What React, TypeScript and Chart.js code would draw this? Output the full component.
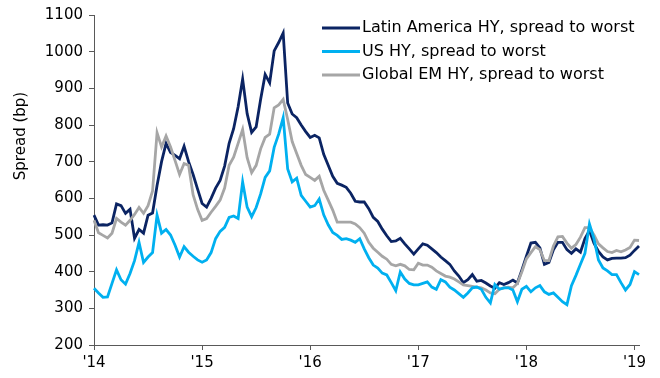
import { useEffect, useRef } from 'react';
import { Chart, registerables } from 'chart.js';

Chart.register(...registerables);

// Half-monthly observations, Jan 2014 – mid Jan 2019
const years = ['2014', '2015', '2016', '2017', '2018', '2019'];
const months = ['01', '02', '03', '04', '05', '06', '07', '08', '09', '10', '11', '12'];
const days = ['01', '16'];

const latamHY = [
  554, 527, 528, 527, 533, 585, 580, 559, 570, 491,
  515, 505, 554, 560, 635, 700, 750, 725, 717, 708,
  742, 700, 665, 625, 586, 576, 600, 628, 649, 688,
  750, 790, 850, 925, 831, 780, 795, 870, 938, 915,
  1002, 1025, 1051, 860, 830, 820, 800, 782, 766, 772,
  765, 720, 690, 660, 641, 636, 630, 614, 592, 590,
  590, 572, 548, 537, 516, 498, 482, 484, 491, 476,
  462, 448, 462, 476, 472, 462, 452, 440, 430, 420,
  402, 388, 370, 378, 392, 374, 376, 369, 361, 355,
  370, 365, 370, 377, 369, 405, 442, 478, 480, 465,
  420, 425, 460, 480, 480, 460, 450, 462, 453, 490,
  512, 478, 455, 440, 432, 436, 437, 437, 438, 445,
  458, 470,
];

const usHY = [
  355, 342, 330, 331, 368, 405, 378, 366, 395, 430,
  480, 425, 440, 452, 554, 505, 515, 500, 472, 440,
  468, 453, 442, 432, 426, 432, 452, 490, 510, 521,
  548, 552, 545, 645, 576, 550, 575, 612, 657, 675,
  739, 775, 820, 680, 645, 655, 608, 592, 576, 580,
  598, 555, 528, 507, 499, 488, 490, 486, 480, 490,
  462, 438, 418, 410, 396, 391, 370, 348, 399, 380,
  368, 364, 364, 368, 372, 358, 352, 378, 372, 358,
  350, 340, 330, 342, 356, 358, 352, 330, 315, 365,
  352, 356, 356, 350, 318, 352, 360, 345, 356, 362,
  345, 338, 342, 330, 318, 310, 362, 390, 420, 450,
  530, 490, 432, 410, 402, 392, 392, 370, 350, 365,
  400, 392,
];

const globalEmHY = [
  540, 506, 499, 492, 505, 545, 535, 527, 540, 556,
  575, 559, 580, 620, 779, 740, 770, 740, 703, 665,
  695, 690, 610, 570, 540, 545, 562, 578, 595, 628,
  690, 712, 750, 788, 711, 670, 690, 735, 766, 775,
  847, 855, 870, 815, 755, 722, 690, 665, 657, 649,
  660, 622, 595, 568, 535, 535, 535, 535, 530, 520,
  505, 480, 464, 453, 442, 434, 420, 416, 420, 416,
  406, 405, 423, 418, 418, 412, 402, 395, 388, 385,
  380, 372, 364, 362, 360, 358, 356, 350, 342, 340,
  352, 356, 358, 356, 368, 400, 435, 452, 468, 460,
  430, 430, 470, 495, 496, 478, 464, 474, 494, 520,
  520, 500, 476, 465, 455, 452, 458, 454, 459, 466,
  486, 485,
];

const seriesNames = [
  'Latin America HY, spread to worst',
  'US HY, spread to worst',
  'Global EM HY, spread to worst',
];
const seriesColors = ['#0B2463', '#00B0F0', '#A6A6A6'];
const yTitle = 'Spread (bp)';

const dates: string[] = [];
for (const y of years) {
  for (const m of months) {
    for (const d of days) {
      if (dates.length < latamHY.length) dates.push(`${y}-${m}-${d}`);
    }
  }
}

const FONT = '"DejaVu Sans", "Liberation Sans", sans-serif';
const AXIS = '#595959';

const overlayText = {
  id: 'overlayText',
  afterDraw(chart: any) {
    const ctx = chart.ctx as CanvasRenderingContext2D;
    ctx.save();
    ctx.fillStyle = '#000';
    ctx.font = `15px ${FONT}`;
    ctx.textAlign = 'center';
    ctx.textBaseline = 'middle';
    ctx.translate(21, 136);
    ctx.rotate(-Math.PI / 2);
    ctx.fillText(yTitle, 0, 0);
    ctx.restore();

    ctx.save();
    ctx.font = `16px ${FONT}`;
    ctx.textAlign = 'left';
    ctx.textBaseline = 'middle';
    seriesNames.forEach((name, k) => {
      const y = 28 + k * 23.5;
      ctx.strokeStyle = seriesColors[k];
      ctx.lineWidth = 2.8;
      ctx.beginPath();
      ctx.moveTo(322, y);
      ctx.lineTo(360, y);
      ctx.stroke();
      ctx.fillStyle = '#000';
      ctx.fillText(name, 362, y);
    });
    ctx.restore();
  },
};

export default function App() {
  const ref = useRef<HTMLCanvasElement>(null);
  useEffect(() => {
    if (!ref.current) return;
    const values = [latamHY, usHY, globalEmHY];
    const chart = new Chart(ref.current, {
      type: 'line',
      data: {
        labels: dates,
        datasets: values.map((v, k) => ({
          label: seriesNames[k],
          data: v,
          borderColor: seriesColors[k],
          backgroundColor: seriesColors[k],
          borderWidth: 2.8,
          pointRadius: 0,
          tension: 0,
          fill: false,
          order: k === 0 ? 3 : k === 2 ? 2 : 1,
        })),
      },
      options: {
        animation: false,
        responsive: false,
        devicePixelRatio: 1,
        layout: { padding: { left: 0, right: 21, top: 14, bottom: 0 } },
        plugins: { legend: { display: false }, tooltip: { enabled: false } },
        scales: {
          x: {
            type: 'category',
            offset: false,
            grid: { drawOnChartArea: false, drawTicks: true, tickLength: 5, color: AXIS },
            border: { display: true, color: AXIS, width: 1 },
            ticks: {
              autoSkip: false,
              maxRotation: 0,
              minRotation: 0,
              padding: 4,
              color: '#000',
              font: { family: FONT, size: 15 },
              callback: (value: any) => {
                const d = dates[value as number];
                return d && d.endsWith('-01-01') ? "'" + d.slice(2, 4) : '';
              },
            },
            afterBuildTicks: (scale: any) => {
              scale.ticks = scale.ticks.filter((t: any) => dates[t.value].endsWith('-01-01'));
            },
            afterFit: (scale: any) => {
              scale.height = 33;
            },
          },
          y: {
            min: 200,
            max: 1100,
            grid: { drawOnChartArea: false, drawTicks: true, tickLength: 5, color: AXIS },
            border: { display: true, color: AXIS, width: 1 },
            ticks: {
              stepSize: 100,
              padding: 6,
              color: '#000',
              font: { family: FONT, size: 15 },
              callback: (value: any) => String(value),
            },
            afterFit: (scale: any) => {
              scale.width = 94;
            },
          },
        },
      },
      plugins: [overlayText],
    } as any);
    return () => chart.destroy();
  }, []);

  return (
    <div style={{ position: 'absolute', left: 0, top: 0, width: 660, height: 378 }}>
      <canvas ref={ref} width={660} height={378} style={{ display: 'block' }} />
    </div>
  );
}
